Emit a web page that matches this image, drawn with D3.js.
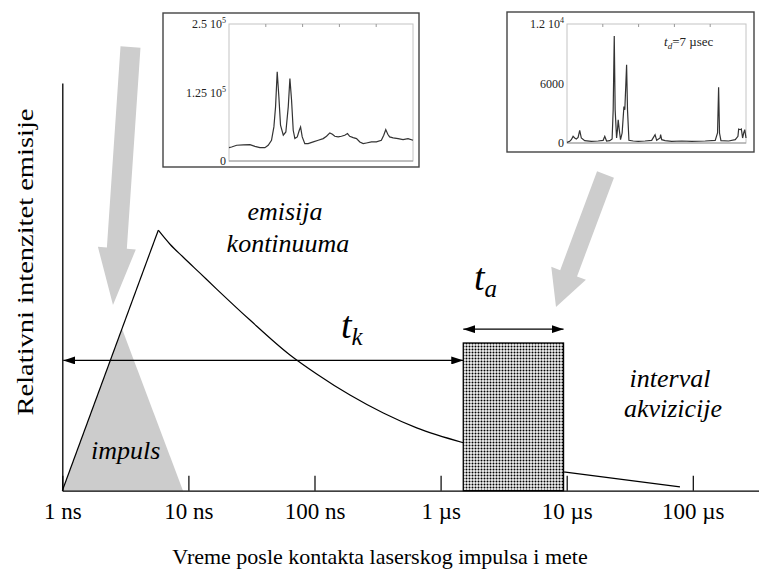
<!DOCTYPE html>
<html><head><meta charset="utf-8">
<script src="https://cdn.jsdelivr.net/npm/d3@7"></script>
<style>
body{margin:0;background:#fff;}
svg{display:block;}
</style></head><body>
<script>
// ---------- data (time in ns, intensity relative to peak) ----------
const tickValues = [1, 10, 100, 1000, 10000, 100000];
const tickLabels = ["1 ns", "10 ns", "100 ns", "1 µs", "10 µs", "100 µs"];

const riseT = [1, 5.77];
const riseI = [0, 1.0];
const decayT = [5.77, 7.15, 9.11, 12.36, 16.76, 30.8, 63.9, 104.1, 191.2, 351.3, 646.3, 1514];
const decayI = [1.0, 0.946, 0.896, 0.835, 0.774, 0.655, 0.521, 0.448, 0.367, 0.298, 0.241, 0.184];
const tailT = [1514, 9440, 79100];
const tailI = [0.184, 0.072, 0.015];

const impulseT = [1, 2.97, 9.06];
const impulseI = [0, 0.623, 0];

const acqWindowT = [1513, 9440];
const acqWindowI = 0.567;
const tkLevel = 0.5;
const taLevel = 0.62;

// inset 1: continuum spectrum (x: channel 0-100, y: counts / 1e5)
const inset1Ch = [0,1.4,4.2,7.8,11.4,14.1,16.8,19.5,21.3,23.1,24.4,25.3,26.2,27.1,28.0,29.5,30.9,32.2,33.1,34.0,34.9,35.8,37.1,38.2,38.9,39.8,41.2,43.0,45.8,48.5,51.2,53.0,54.8,56.2,57.5,59.3,61.1,62.9,64.4,65.6,67.5,69.3,71.1,72.9,74.7,77.4,80.1,82.8,84.1,85.2,86.3,87.3,89.2,91.9,94.6,97.3,100];
const inset1Val = [0.244,0.256,0.287,0.293,0.299,0.268,0.244,0.244,0.287,0.378,0.622,0.988,1.628,1.171,0.652,0.470,0.530,0.988,1.506,1.110,0.561,0.409,0.439,0.561,0.622,0.439,0.317,0.317,0.348,0.378,0.409,0.451,0.512,0.488,0.451,0.439,0.451,0.470,0.500,0.451,0.427,0.409,0.348,0.317,0.329,0.348,0.348,0.378,0.470,0.573,0.488,0.439,0.421,0.409,0.390,0.409,0.378];
const inset1Ticks = [0, 1.25, 2.5];
const inset1TickLabels = [["0",""], ["1.25 10","5"], ["2.5 10","5"]];

// inset 2: line spectrum at t_d = 7 µs (x: channel 0-100, y: counts)
const inset2Ch = [0,1.5,2.4,3.4,4.3,5.2,6.2,7.1,8.0,9.9,13.6,17.4,20.2,21.1,22.1,23.9,25.2,25.8,26.4,26.9,27.7,28.2,28.6,29.2,29.9,30.8,31.8,32.3,33.3,33.8,34.6,37.0,39.8,43.6,47.3,49.2,50.1,52.0,52.3,52.9,54.8,58.5,64.1,69.7,77.2,82.8,84.1,84.7,85.2,86.0,90.3,94.0,95.5,95.9,96.8,97.4,98.1,98.7,99.3,100];
const inset2Val = [67,168,335,670,503,402,570,1274,503,235,168,201,268,670,201,235,402,3352,10793,3352,503,1341,2346,1341,335,1006,3687,3352,7877,3352,268,201,168,201,268,838,268,503,838,335,235,168,201,168,201,268,1006,5631,1006,235,201,335,670,1408,1341,1408,503,1006,1341,503];
const inset2Ticks = [0, 6000, 12000];
const inset2TickLabels = [["0",""], ["6000",""], ["1.2 10","4"]];

// ---------- drawing ----------
const FONT = "'Liberation Serif', 'Times New Roman', Times, serif";
const W = 759, H = 572;
const svg = d3.select("body").append("svg").attr("width", W).attr("height", H)
  .style("font-family", FONT);
svg.append("rect").attr("width", W).attr("height", H).attr("fill", "#fff");

const defs = svg.append("defs");
const pat = defs.append("pattern").attr("id", "dots").attr("patternUnits", "userSpaceOnUse")
  .attr("width", 3).attr("height", 3);
pat.append("rect").attr("width", 3).attr("height", 3).attr("fill", "#f2f2f2");
pat.append("circle").attr("cx", 1.5).attr("cy", 1.5).attr("r", 1.0).attr("fill", "#000");

const mk = defs.append("marker").attr("id", "ah").attr("viewBox", "0 0 12 8")
  .attr("refX", 12).attr("refY", 4).attr("markerWidth", 12).attr("markerHeight", 8)
  .attr("markerUnits", "userSpaceOnUse").attr("orient", "auto-start-reverse");
mk.append("path").attr("d", "M0,0L12,4L0,8Z").attr("fill", "#000");

const x = d3.scaleLog().domain([1, 335000]).range([62.3, 759]);
const y = d3.scaleLinear().domain([0, 1.565]).range([490.7, 83]);

// impulse (grey triangle)
svg.append("path")
  .datum(d3.zip(impulseT, impulseI))
  .attr("d", d3.line().x(d => x(d[0])).y(d => y(d[1])))
  .attr("fill", "#cccccc");

// grey pointer arrows (layout annotations)
function arrowPoly(x0, y0, x1, y1, sw, hw, hl) {
  const dx = x1 - x0, dy = y1 - y0, L = Math.hypot(dx, dy);
  const ux = dx / L, uy = dy / L, px = -uy, py = ux;
  const bx = x1 - ux * hl, by = y1 - uy * hl;
  return [[x0 + px * sw / 2, y0 + py * sw / 2], [bx + px * sw / 2, by + py * sw / 2],
          [bx + px * hw / 2, by + py * hw / 2], [x1, y1], [bx - px * hw / 2, by - py * hw / 2],
          [bx - px * sw / 2, by - py * sw / 2], [x0 - px * sw / 2, y0 - py * sw / 2]];
}
[[130.5, 47, 113, 305, 20, 38, 57], [605.5, 174.5, 556, 307, 18, 37, 36]].forEach(a => {
  svg.append("polygon").attr("points", arrowPoly(...a).map(p => p.join(",")).join(" "))
    .attr("fill", "#cdcdcd");
});

// emission curve
const lineLin = d3.line().x(d => x(d[0])).y(d => y(d[1]));
const lineSmooth = d3.line().x(d => x(d[0])).y(d => y(d[1])).curve(d3.curveMonotoneX);
svg.append("path").datum(d3.zip(riseT, riseI)).attr("d", lineLin)
  .attr("fill", "none").attr("stroke", "#000").attr("stroke-width", 1.2);
svg.append("path").datum(d3.zip(decayT, decayI)).attr("d", lineSmooth)
  .attr("fill", "none").attr("stroke", "#000").attr("stroke-width", 1.2);
svg.append("path").datum(d3.zip(tailT, tailI)).attr("d", lineLin)
  .attr("fill", "none").attr("stroke", "#000").attr("stroke-width", 1.2);

// acquisition window
svg.append("rect")
  .attr("x", x(acqWindowT[0])).attr("y", y(acqWindowI))
  .attr("width", x(acqWindowT[1]) - x(acqWindowT[0]))
  .attr("height", y(0) - y(acqWindowI))
  .attr("fill", "url(#dots)").attr("stroke", "#000").attr("stroke-width", 1.3);

// t_k and t_a double arrows
svg.append("line").attr("x1", x(1) + 1).attr("x2", x(acqWindowT[0]))
  .attr("y1", y(tkLevel)).attr("y2", y(tkLevel))
  .attr("stroke", "#000").attr("stroke-width", 1.3)
  .attr("marker-start", "url(#ah)").attr("marker-end", "url(#ah)");
svg.append("line").attr("x1", x(acqWindowT[0])).attr("x2", x(acqWindowT[1]))
  .attr("y1", y(taLevel)).attr("y2", y(taLevel))
  .attr("stroke", "#000").attr("stroke-width", 1.3)
  .attr("marker-start", "url(#ah)").attr("marker-end", "url(#ah)");

// axes
const xAxis = d3.axisBottom(x).tickValues(tickValues).tickFormat((d, i) => tickLabels[i])
  .tickSizeInner(-15).tickSizeOuter(0).tickPadding(12);
const gx = svg.append("g").attr("transform", `translate(0,${y(0)})`).call(xAxis)
  .attr("font-family", null).attr("font-size", null);
gx.select(".domain").attr("stroke", "#000").attr("stroke-width", 1.3);
gx.selectAll(".tick line").attr("stroke", "#000").attr("stroke-width", 1.2);
gx.selectAll(".tick text").style("font-family", FONT).style("font-size", "23px").attr("fill", "#000");

const yAxis = d3.axisLeft(y).tickValues([]).tickSizeOuter(0);
const gy = svg.append("g").attr("transform", `translate(${x(1)},0)`).call(yAxis);
gy.select(".domain").attr("stroke", "#000").attr("stroke-width", 1.3);

// axis titles
svg.append("text").attr("transform", "translate(33,262) rotate(-90)")
  .attr("text-anchor", "middle").style("font-family", FONT).style("font-size", "23px")
  .attr("textLength", 307).attr("lengthAdjust", "spacingAndGlyphs")
  .text("Relativni intenzitet emisije");
svg.append("text").attr("x", 380).attr("y", 564).attr("text-anchor", "middle")
  .style("font-family", FONT).style("font-size", "22px")
  .text("Vreme posle kontakta laserskog impulsa i mete");

// italic annotations
const it = (tx, ty, s, anchor) => svg.append("text").attr("x", tx).attr("y", ty)
  .attr("text-anchor", anchor || "middle").style("font-family", FONT).style("font-size", "26px")
  .style("font-style", "italic").text(s);
it(285, 220, "emisija");
it(288, 252, "kontinuuma");
it(670, 387, "interval");
it(673, 417, "akvizicije");
it(91, 459, "impuls", "start");

const tk = svg.append("text").attr("x", 341).attr("y", 338).style("font-family", FONT)
  .style("font-style", "italic").style("font-size", "38px");
tk.append("tspan").text("t");
tk.append("tspan").attr("dy", 7).style("font-size", "25px").text("k");
const ta = svg.append("text").attr("x", 474).attr("y", 290).style("font-family", FONT)
  .style("font-style", "italic").style("font-size", "38px");
ta.append("tspan").text("t");
ta.append("tspan").attr("dy", 7).style("font-size", "25px").text("a");

// ---------- insets ----------
function inset(box, plot, ch, val, yMax, ticks, tLabels) {
  const g = svg.append("g");
  g.append("rect").attr("x", box[0]).attr("y", box[1]).attr("width", box[2] - box[0])
    .attr("height", box[3] - box[1]).attr("fill", "#fff").attr("stroke", "#444").attr("stroke-width", 1.4);
  const ix = d3.scaleLinear().domain([0, 100]).range([plot[0], plot[2]]);
  const iy = d3.scaleLinear().domain([0, yMax]).range([plot[3], plot[1]]);
  g.append("rect").attr("x", plot[0]).attr("y", plot[1]).attr("width", plot[2] - plot[0])
    .attr("height", plot[3] - plot[1]).attr("fill", "none").attr("stroke", "#c4c4c4").attr("stroke-width", 1);
  g.append("line").attr("x1", plot[0]).attr("x2", plot[2]).attr("y1", plot[3]).attr("y2", plot[3])
    .attr("stroke", "#999").attr("stroke-width", 1.2);
  [20, 40, 60, 80].forEach(c => {
    g.append("line").attr("x1", ix(c)).attr("x2", ix(c)).attr("y1", plot[1]).attr("y2", plot[1] + 3)
      .attr("stroke", "#999");
  });
  g.append("path").datum(d3.zip(ch, val))
    .attr("d", d3.line().x(d => ix(d[0])).y(d => iy(d[1])))
    .attr("fill", "none").attr("stroke", "#333").attr("stroke-width", 1.2);
  ticks.forEach((t, i) => {
    const tx = g.append("text").attr("x", plot[0] - 3).attr("y", iy(t) + 4)
      .attr("text-anchor", "end").style("font-family", FONT).style("font-size", "12px").attr("fill", "#222");
    tx.append("tspan").text(tLabels[i][0]);
    if (tLabels[i][1]) tx.append("tspan").attr("dy", -5).style("font-size", "8px").text(tLabels[i][1]);
  });
  return g;
}
inset([163, 13, 419, 167], [229, 24, 413, 161], inset1Ch, inset1Val, 2.5, inset1Ticks, inset1TickLabels);
const g2 = inset([507, 12, 754, 152], [567, 24, 746, 143], inset2Ch, inset2Val, 12000, inset2Ticks, inset2TickLabels);
const td = g2.append("text").attr("x", 664).attr("y", 46).style("font-family", FONT)
  .style("font-size", "13px").attr("fill", "#222");
td.append("tspan").style("font-style", "italic").text("t");
td.append("tspan").style("font-style", "italic").attr("dy", 3).style("font-size", "9px").text("d");
td.append("tspan").attr("dy", -3).text("=7 µsec");
</script>
</body></html>
